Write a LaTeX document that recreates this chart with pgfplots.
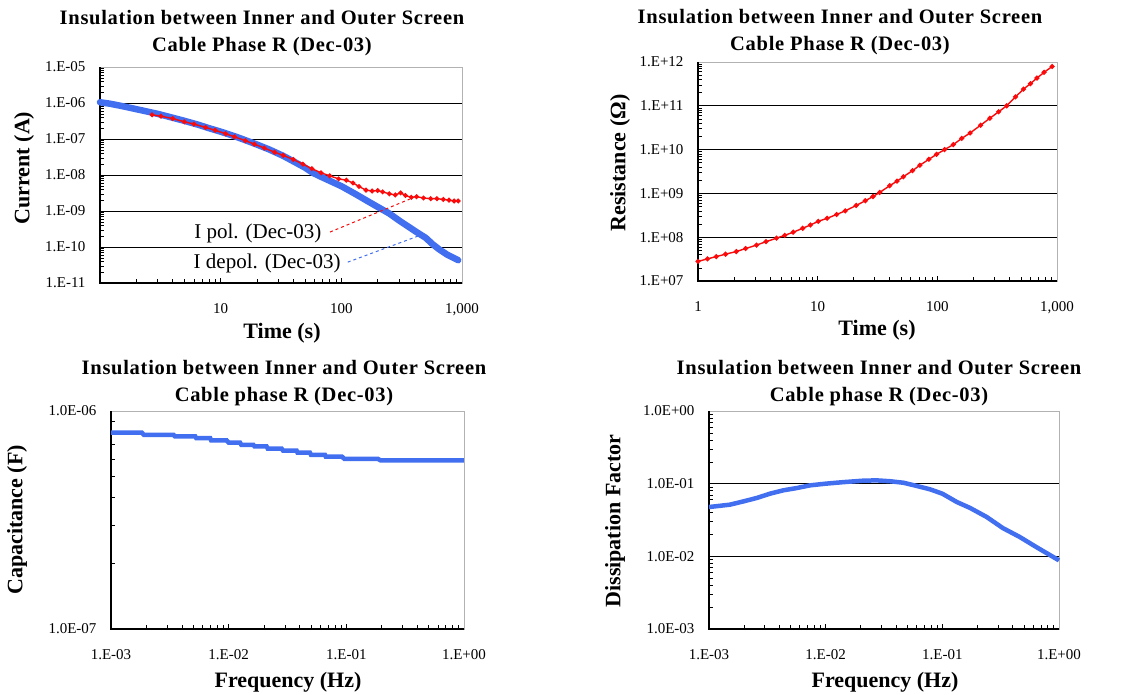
\documentclass[border=0pt]{standalone}
\usepackage{fontspec}
\setmainfont{Liberation Serif}
\newfontfamily\titlefam[LetterSpace=3.5]{Liberation Serif}
\usepackage{pgfplots}
\pgfplotsset{compat=1.18}
\definecolor{myblue}{RGB}{66,110,240}
\definecolor{myred}{RGB}{250,10,10}
\newcommand{\tickfont}{\fontsize{15}{17}\selectfont}
\newcommand{\labfont}{\fontsize{22}{24}\selectfont\bfseries}
\newcommand{\titfont}{\titlefam\fontsize{20.5}{27}\selectfont\bfseries}
\pgfplotsset{every axis/.append style={
    scale only axis, clip=false,
    axis line style={gray!60, line width=0.6pt},
    tick style={black, line width=0.6pt},
    tick align=inside,
    major tick length=5pt, minor tick length=4pt,
    xtick pos=bottom, ytick pos=left,
    ticklabel style={font=\tickfont},
    yticklabel style={xshift=-11pt},
    xticklabel style={yshift=-17pt},
    major grid style={black, line width=0.8pt}}}
\newcommand{\blackframe}{\draw[black, line width=1.6pt] (rel axis cs:0,1) -- (rel axis cs:0,0) -- (rel axis cs:1,0);}
\begin{document}
\begin{tikzpicture}
\useasboundingbox (0,0) rectangle (1144pt,-695pt);
% ---------------- top-left
\begin{axis}[xmode=log, ymode=log, at={(100pt,-283pt)}, anchor=south west, width=362pt, height=216pt,
  xmin=1, xmax=1000, ymin=1e-11, ymax=1e-5,
  xtick={1,10,100,1000}, xticklabels={,10,100,{1,000}},
  ytick={1e-11,1e-10,1e-9,1e-8,1e-7,1e-6,1e-5},
  yticklabels={1.E-11,1.E-10,1.E-09,1.E-08,1.E-07,1.E-06,1.E-05},
  ymajorgrids]
\blackframe
\addplot[myblue, line width=6.5pt, line join=round, line cap=round] coordinates {
(1,1.05e-6)(1.2,9.6e-7)(1.5,8.3e-7)(1.9,7.0e-7)(2.4,5.9e-7)(3,5.0e-7)(4,3.9e-7)(5,3.2e-7)
(6.5,2.5e-7)(8,2.0e-7)(10,1.6e-7)(13,1.2e-7)(16,9.3e-8)(20,7.0e-8)(25,5.2e-8)(33,3.4e-8)
(42,2.2e-8)(50,1.6e-8)(58,1.15e-8)(70,8.5e-9)(85,6.3e-9)(100,4.9e-9)(130,3.0e-9)(160,2.0e-9)
(200,1.3e-9)(250,8.5e-10)(300,5.5e-10)(350,3.9e-10)(420,2.6e-10)(500,1.8e-10)(570,1.2e-10)
(650,8.5e-11)(750,6.2e-11)(850,5.0e-11)(930,4.3e-11)};
\addplot[myred, line width=1.4pt, mark=*, mark size=1.7pt] coordinates {
(2.7,4.7e-7)(3.2,4.3e-7)(4,3.7e-7)(5,3.0e-7)(6,2.6e-7)(7.5,2.1e-7)(9,1.75e-7)(11,1.4e-7)
(13,1.15e-7)(16,9.0e-8)(19,7.2e-8)(23,5.6e-8)(28,4.3e-8)(33,3.5e-8)(40,2.7e-8)(48,2.0e-8)
(57,1.5e-8)(68,1.15e-8)(80,9.5e-9)(95,7.8e-9)(110,7.2e-9)(125,6.0e-9)(140,4.8e-9)(160,3.8e-9)
(180,3.6e-9)(200,3.7e-9)(220,3.4e-9)(250,3.0e-9)(280,2.8e-9)(310,3.2e-9)(340,2.7e-9)
(380,2.4e-9)(420,2.5e-9)(480,2.3e-9)(550,2.2e-9)(620,2.2e-9)(700,2.1e-9)(780,2.0e-9)
(860,1.9e-9)(930,1.9e-9)};
\draw[myred, dashed, line width=1pt] (axis cs:80.5,2.6e-10) -- (axis cs:370,2.15e-9);
\draw[myblue, dashed, line width=1pt] (axis cs:113,3.8e-11) -- (axis cs:431,2.0e-10);
\node[anchor=east, font=\fontsize{21}{23}\selectfont, inner sep=1pt] at (axis cs:70,2.4e-10) {I pol. (Dec-03)};
\node[anchor=east, font=\fontsize{21}{23}\selectfont, inner sep=1pt] at (axis cs:101,3.6e-11) {I depol. (Dec-03)};
\end{axis}
% ---------------- top-right
\begin{axis}[xmode=log, ymode=log, at={(698pt,-281pt)}, anchor=south west, width=359pt, height=219pt,
  xmin=1, xmax=1000, ymin=1e7, ymax=1e12,
  xtick={1,10,100,1000}, xticklabels={1,10,100,{1,000}},
  ytick={1e7,1e8,1e9,1e10,1e11,1e12},
  yticklabels={1.E+07,1.E+08,1.E+09,1.E+10,1.E+11,1.E+12},
  ymajorgrids]
\blackframe
\addplot[myred, line width=1.4pt, mark=*, mark size=1.8pt] coordinates {
(1,2.8e7)(1.2,3.2e7)(1.42,3.6e7)(1.7,4.1e7)(2.09,4.7e7)(2.5,5.5e7)(3.08,6.6e7)(3.7,7.9e7)
(4.53,9.5e7)(5.3,1.1e8)(6.25,1.3e8)(7.5,1.6e8)(8.7,1.9e8)(10.1,2.3e8)(12,2.7e8)(14.4,3.3e8)
(17,4.0e8)(21,5.3e8)(25,6.8e8)(29,8.5e8)(33,1.05e9)(40,1.5e9)(46,1.9e9)(52,2.4e9)(62,3.3e9)
(71.5,4.4e9)(85,6.0e9)(98.6,7.8e9)(115,1.0e10)(136,1.3e10)(160,1.8e10)(188,2.4e10)
(230,3.6e10)(275,5.2e10)(325,7.3e10)(380,1.0e11)(450,1.6e11)(525,2.4e11)(600,3.2e11)
(680,4.3e11)(780,5.8e11)(910,7.9e11)};
\end{axis}
% ---------------- bottom-left
\begin{axis}[xmode=log, ymode=log, at={(111pt,-629pt)}, anchor=south west, width=353pt, height=218pt,
  xmin=1e-3, xmax=1, ymin=1e-7, ymax=1e-6,
  xtick={1e-3,1e-2,1e-1,1}, xticklabels={1.E-03,1.E-02,1.E-01,1.E+00},
  ytick={1e-7,1e-6}, yticklabels={1.0E-07,1.0E-06}]
\blackframe
\addplot[myblue, line width=4.5pt] coordinates {
(1e-3,7.96e-7)(1.83e-3,7.96e-7)(1.9e-3,7.78e-7)(3.4e-3,7.78e-7)(3.5e-3,7.65e-7)(5.2e-3,7.65e-7)
(5.3e-3,7.52e-7)(6.96e-3,7.52e-7)(7.1e-3,7.34e-7)(9.6e-3,7.34e-7)(1.0e-2,7.16e-7)(1.25e-2,7.16e-7)
(1.28e-2,7.0e-7)(1.62e-2,7.0e-7)(1.66e-2,6.88e-7)(2.1e-2,6.88e-7)(2.15e-2,6.72e-7)(2.82e-2,6.72e-7)
(2.9e-2,6.58e-7)(3.78e-2,6.58e-7)(3.85e-2,6.44e-7)(4.9e-2,6.44e-7)(5.0e-2,6.3e-7)(6.58e-2,6.3e-7)
(6.7e-2,6.17e-7)(9.2e-2,6.17e-7)(9.6e-2,6.04e-7)(0.185,6.04e-7)(0.195,5.94e-7)(1.0,5.94e-7)};
\end{axis}
% ---------------- bottom-right
\begin{axis}[xmode=log, ymode=log, at={(709pt,-629pt)}, anchor=south west, width=350pt, height=218pt,
  xmin=1e-3, xmax=1, ymin=1e-3, ymax=1,
  xtick={1e-3,1e-2,1e-1,1}, xticklabels={1.E-03,1.E-02,1.E-01,1.E+00},
  ytick={1e-3,1e-2,1e-1,1}, yticklabels={1.0E-03,1.0E-02,1.0E-01,1.0E+00},
  ymajorgrids]
\blackframe
\addplot[myblue, line width=4.5pt, line join=round] coordinates {
(1e-3,0.0477)(1.51e-3,0.0514)(1.97e-3,0.057)(2.56e-3,0.0635)(3.33e-3,0.0728)(4.33e-3,0.081)
(5.64e-3,0.087)(7.34e-3,0.0948)(1e-2,0.1)(1.42e-2,0.105)(2.1e-2,0.110)(2.74e-2,0.111)
(3.57e-2,0.108)(4.64e-2,0.103)(6.05e-2,0.093)(7.87e-2,0.0835)(0.1,0.0728)(0.133,0.056)
(0.173,0.0463)(0.24,0.0348)(0.33,0.0245)(0.46,0.0185)(0.64,0.0134)(1.0,0.0088)};
\end{axis}
% ---------------- titles and labels
\node[font=\titfont, align=center] at (262pt,-33pt) {Insulation between Inner and Outer Screen\\Cable Phase R (Dec-03)};
\node[font=\titfont, align=center] at (840pt,-32pt) {Insulation between Inner and Outer Screen\\Cable Phase R (Dec-03)};
\node[font=\titfont, align=center] at (284pt,-383pt) {Insulation between Inner and Outer Screen\\Cable phase R (Dec-03)};
\node[font=\titfont, align=center] at (879pt,-383pt) {Insulation between Inner and Outer Screen\\Cable phase R (Dec-03)};
\node[font=\labfont] at (282pt,-333pt) {Time (s)};
\node[font=\labfont] at (877pt,-330pt) {Time (s)};
\node[font=\labfont] at (288pt,-682pt) {Frequency (Hz)};
\node[font=\labfont] at (885pt,-682pt) {Frequency (Hz)};
\node[font=\labfont, rotate=90] at (24pt,-168pt) {Current (A)};
\node[font=\labfont, rotate=90] at (620pt,-163pt) {Resistance (Ω)};
\node[font=\labfont, rotate=90] at (17pt,-520pt) {Capacitance (F)};
\node[font=\labfont, rotate=90] at (615pt,-521pt) {Dissipation Factor};
\end{tikzpicture}
\end{document}
